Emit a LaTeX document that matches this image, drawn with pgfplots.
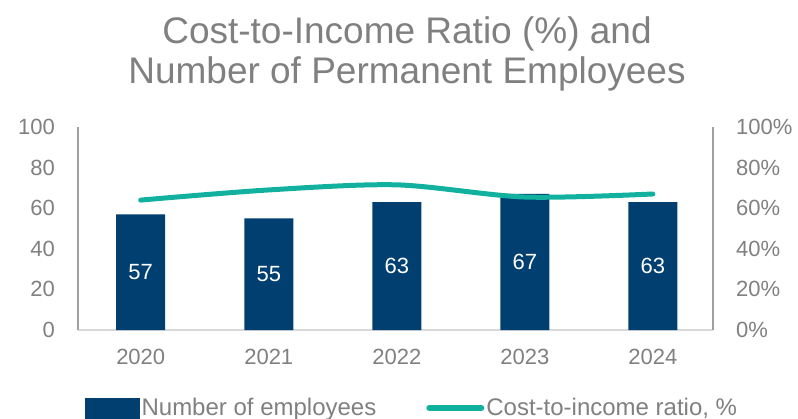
\documentclass[border=0pt]{standalone}
\usepackage{pgfplots}
\pgfplotsset{compat=1.18}
\usepackage{fontspec}
\setmainfont{Liberation Sans}
\definecolor{barblue}{RGB}{0,63,112}
\definecolor{teal2}{RGB}{18,176,158}
\definecolor{txtgray}{RGB}{128,128,128}
\definecolor{axgray}{RGB}{160,160,160}
\definecolor{basegray}{RGB}{217,217,217}
\begin{document}
\begin{tikzpicture}[x=1bp,y=1bp]
\useasboundingbox (0,0) rectangle (798,418);
\clip (0,0) rectangle (798,418);
\node[font=\fontsize{37bp}{40bp}\selectfont, text=txtgray, align=center] at (407,364) {Cost-to-Income Ratio (\%) and\\Number of Permanent Employees};
\pgfplotsset{
  base/.style={
    scale only axis, width=635bp, height=203bp,
    at={(78bp,88bp)}, anchor=south west,
    xmin=-0.49, xmax=4.47, ymin=0, ymax=100,
    ytick={0,20,...,100},
    major tick length=0pt,
    /pgf/number format/assume math mode=true,
    tick label style={font=\fontsize{22bp}{26bp}\selectfont, text=txtgray},
  }
}
\begin{axis}[base,
  axis x line*=bottom, axis y line*=left,
  x axis line style={-, draw=basegray, line width=1.5bp},
  y axis line style={-, draw=axgray, line width=1.5bp},
  xtick={0,...,4}, xticklabels={2020,2021,2022,2023,2024},
  xticklabel style={anchor=north, inner sep=0pt, yshift=-19bp},
  yticklabel style={anchor=east, inner sep=0pt, xshift=-23bp},
]
\addplot[ybar, bar width=49bp, fill=barblue, draw=none,
  visualization depends on=y \as \rawy,
  nodes near coords,
  every node near coord/.append style={anchor=center, text=white, font=\fontsize{22bp}{26bp}\selectfont, shift={(axis direction cs:0,-\rawy/2)}}
] coordinates {(0,57) (1,55) (2,63) (3,67) (4,63)};
\end{axis}
\begin{axis}[base,
  axis x line=none, axis y line*=right,
  y axis line style={-, draw=axgray, line width=1.5bp},
  yticklabel={\pgfmathprintnumber{\tick}\%},
  yticklabel style={anchor=west, inner sep=0pt, xshift=23bp},
  legend style={at={(0.011,-0.384)}, anchor=west, draw=none, fill=none, inner sep=0pt, font=\fontsize{24bp}{28bp}\selectfont, text=txtgray, /tikz/every even column/.append style={column sep=48bp}},
  legend columns=2,
  legend cell align=left,
]
\addlegendimage{legend image code/.code={\fill[barblue] (0bp,-10bp) rectangle (54bp,10bp);}}
\addlegendentry{Number of employees}
\addplot[teal2, line width=5bp, line cap=round, smooth, legend image code/.code={\draw[teal2, line width=6bp, line cap=round] (3bp,0bp) -- (55bp,0bp);}] coordinates {(0,64) (1,69) (2,71.5) (3,65.5) (4,67)};
\addlegendentry{Cost-to-income ratio, \%}
\end{axis}
\end{tikzpicture}
\end{document}
